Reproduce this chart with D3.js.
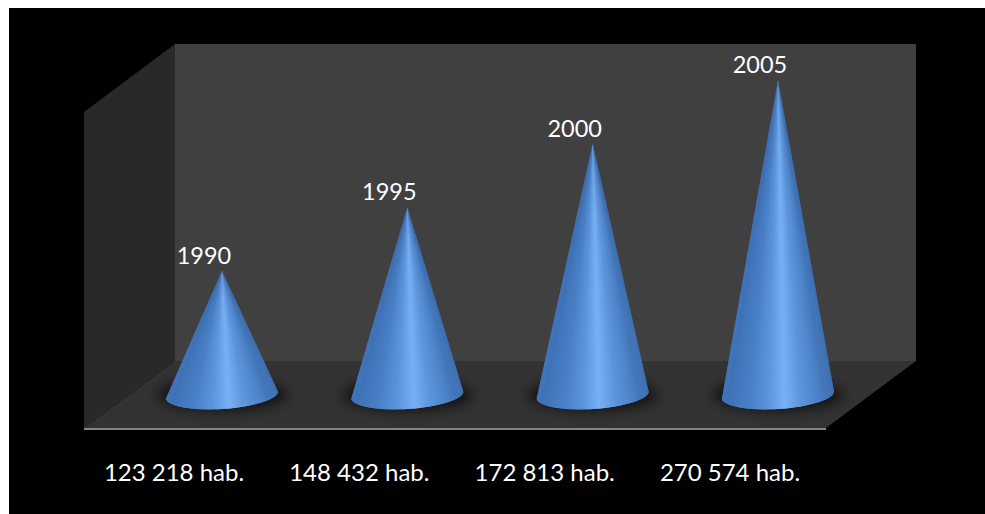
<!DOCTYPE html>
<html>
<head>
<meta charset="utf-8">
<script src="https://cdn.jsdelivr.net/npm/d3@7"></script>
<style>
  html, body { margin: 0; padding: 0; background: #fff; }
  svg { display: block; }
  text { font-family: Lato, "Open Sans", sans-serif; fill: #fff; }
</style>
</head>
<body>
<div id="vis"></div>
<script>
var years = ["1990", "1995", "2000", "2005"];
var cone_values = [2, 3, 4, 5];
var inhabitants = ["123 218 hab.", "148 432 hab.", "172 813 hab.", "270 574 hab."];

var width = 985, height = 514;

var svg = d3.select("div#vis").append("svg")
    .attr("width", width)
    .attr("height", height);

svg.append("rect")
    .attr("x", 9).attr("y", 8)
    .attr("width", width - 9).attr("height", height - 8)
    .attr("fill", "#000");

/*************************** scales ************************************/
var x = d3.scalePoint().domain(years).range([222, 778]);
var y = d3.scaleLinear().domain([0, 5]).range([398, 80]);

var shade = d3.scaleLinear()
    .domain([0, 0.15, 0.33, 0.44, 0.54, 0.64, 0.82, 1])
    .range(["#4479c0", "#3f72b6", "#4a80c6", "#5c94dc", "#78b0f4", "#5c94da", "#4377ba", "#3f70b0"]);

/*************************** walls ************************************/
var walls = [
    {fill: "#292929", pts: [[84, 112], [175, 44], [175, 361], [84, 428]]},
    {fill: "#404040", pts: [[175, 44], [916, 44], [916, 361], [175, 361]]},
    {fill: "#333333", pts: [[175, 361], [916, 361], [826, 428], [84, 428]]}
];
svg.selectAll("polygon.wall")
    .data(walls)
  .enter().append("polygon")
    .attr("class", "wall")
    .attr("fill", function(d) { return d.fill; })
    .attr("points", function(d) { return d.pts.join(" "); });

svg.append("line")
    .attr("x1", 84).attr("x2", 826)
    .attr("y1", 429).attr("y2", 429)
    .attr("stroke", "#858585")
    .attr("stroke-width", 2);

/*************************** cones ************************************/
var blur = svg.append("defs").append("filter")
    .attr("id", "soft")
    .attr("x", "-30%").attr("width", "160%")
    .attr("y", "-80%").attr("height", "260%");
blur.append("feGaussianBlur").attr("stdDeviation", 7);

var rx = 56, ry = 14, tilt = -0.06, base_y = 395;
var n_slices = 70;

// point on the tilted base rim, t goes 0..1 from the left end to the right end
function rim(cx, t) {
    var a = Math.PI * (1 - t);
    var px = rx * Math.cos(a), py = ry * Math.sin(a);
    return [cx + px, base_y + py + px * Math.sin(tilt)];
}

var cones = svg.selectAll("g.cone")
    .data(years)
  .enter().append("g")
    .attr("class", "cone");

cones.append("ellipse")
    .attr("cx", function(d) { return x(d); })
    .attr("cy", base_y)
    .attr("rx", rx + 9)
    .attr("ry", ry + 1)
    .attr("fill", "#000")
    .attr("opacity", 0.7)
    .attr("filter", "url(#soft)");

cones.each(function(d, i) {
    var cx = x(d), tip = [cx, y(cone_values[i])];
    // every slice runs under the next one, so no seams show between them
    var slices = d3.range(n_slices).map(function(k) {
        return {t: (k + 0.5) / n_slices,
                a: rim(cx, k / n_slices),
                b: rim(cx, Math.min(k + 2, n_slices) / n_slices)};
    });
    d3.select(this).selectAll("polygon.slice")
        .data(slices)
      .enter().append("polygon")
        .attr("class", "slice")
        .attr("points", function(s) { return [tip, s.a, s.b].join(" "); })
        .attr("fill", function(s) { return shade(s.t); });
});

/*************************** labels ************************************/
svg.selectAll("text.year")
    .data(years)
  .enter().append("text")
    .attr("class", "year")
    .attr("x", function(d) { return x(d) - 18; })
    .attr("y", function(d, i) { return y(cone_values[i]) - 7; })
    .attr("text-anchor", "middle")
    .style("font-size", "23.5px")
    .text(function(d) { return d; });

svg.selectAll("text.hab")
    .data(inhabitants)
  .enter().append("text")
    .attr("class", "hab")
    .attr("x", function(d, i) { return x(years[i]) - 48; })
    .attr("y", 481)
    .attr("text-anchor", "middle")
    .style("font-size", "24px")
    .text(function(d) { return d; });
</script>
</body>
</html>
